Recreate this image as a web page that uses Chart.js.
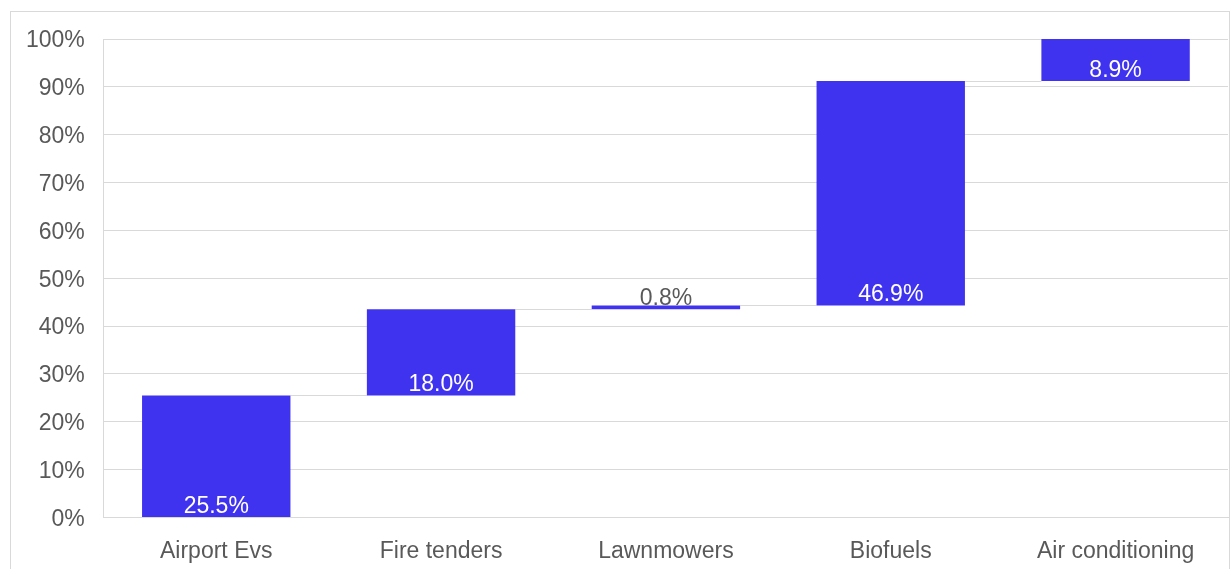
<!DOCTYPE html>
<html>
<head>
<meta charset="utf-8">
<title>Waterfall</title>
<script src="https://cdn.jsdelivr.net/npm/chart.js@4/dist/chart.umd.min.js"></script>
<style>
  html, body { margin: 0; padding: 0; background: #fff; }
  #wrap { position: relative; width: 1232px; height: 569px; overflow: hidden; }
  #frame { position: absolute; left: 10px; top: 11px; width: 1220px; height: 600px; border: 1px solid #d9d9d9; box-sizing: border-box; }
  #chart { position: absolute; left: 0; top: 0; }
</style>
</head>
<body>
<div id="wrap">
  <div id="frame"></div>
  <canvas id="chart" width="1232" height="586"></canvas>
</div>
<script>
const categories = ['Airport Evs', 'Fire tenders', 'Lawnmowers', 'Biofuels', 'Air conditioning'];
const shares = [25.5, 18.0, 0.8, 46.9, 8.9];
const yTicks = [0, 10, 20, 30, 40, 50, 60, 70, 80, 90, 100];

const BAR_COLOR = '#4033f0';
const GRID_COLOR = '#d9d9d9';
const TEXT_COLOR = '#595959';
const FONT = 'Arial, "Liberation Sans", sans-serif';

// floating bars: each one starts where the previous ended
const ranges = [];
let running = 0;
shares.forEach(v => {
  ranges.push([running, running + v]);
  running += v;
});

const connectorPlugin = {
  id: 'connectors',
  beforeDatasetsDraw(chart) {
    const ctx = chart.ctx;
    const meta = chart.getDatasetMeta(0);
    const y = chart.scales.y;
    ctx.save();
    ctx.strokeStyle = GRID_COLOR;
    ctx.lineWidth = 1;
    for (let i = 0; i < meta.data.length - 1; i++) {
      const a = meta.data[i], b = meta.data[i + 1];
      const py = Math.round(y.getPixelForValue(ranges[i][1])) + 0.5;
      ctx.beginPath();
      ctx.moveTo(a.x + a.width / 2, py);
      ctx.lineTo(b.x - b.width / 2, py);
      ctx.stroke();
    }
    ctx.restore();
  }
};

const labelPlugin = {
  id: 'barLabels',
  afterDatasetsDraw(chart) {
    const ctx = chart.ctx;
    const meta = chart.getDatasetMeta(0);
    const y = chart.scales.y;
    ctx.save();
    ctx.font = '23px ' + FONT;
    ctx.textAlign = 'center';
    ctx.textBaseline = 'alphabetic';
    meta.data.forEach((bar, i) => {
      const base = y.getPixelForValue(ranges[i][0]);
      const top = y.getPixelForValue(ranges[i][1]);
      const txt = shares[i].toFixed(1) + '%';
      if (base - top > 20) {
        ctx.fillStyle = '#ffffff';
        ctx.fillText(txt, bar.x, base - 4);
      } else {
        ctx.fillStyle = TEXT_COLOR;
        ctx.fillText(txt, bar.x, top);
      }
    });
    ctx.restore();
  }
};

new Chart(document.getElementById('chart').getContext('2d'), {
  type: 'bar',
  data: {
    labels: categories,
    datasets: [{
      data: ranges,
      backgroundColor: BAR_COLOR,
      borderWidth: 0,
      barPercentage: 0.66,
      categoryPercentage: 1.0
    }]
  },
  options: {
    responsive: false,
    animation: false,
    layout: { padding: { left: 7, right: 4, top: 39, bottom: 1 } },
    plugins: {
      legend: { display: false },
      tooltip: { enabled: false }
    },
    scales: {
      x: {
        grid: { display: false, drawTicks: false },
        border: { display: true, color: GRID_COLOR },
        ticks: { color: TEXT_COLOR, font: { size: 23, family: FONT }, padding: 20, maxRotation: 0 }
      },
      y: {
        min: yTicks[0],
        max: yTicks[yTicks.length - 1],
        afterBuildTicks(scale) { scale.ticks = yTicks.map(v => ({ value: v })); },
        grid: { color: GRID_COLOR, lineWidth: 1, drawTicks: false },
        border: { display: true, color: GRID_COLOR },
        ticks: {
          color: TEXT_COLOR,
          font: { size: 23, family: FONT },
          padding: 19,
          labelOffset: 2,
          callback: v => v + '%'
        }
      }
    }
  },
  plugins: [connectorPlugin, labelPlugin]
});
</script>
</body>
</html>
